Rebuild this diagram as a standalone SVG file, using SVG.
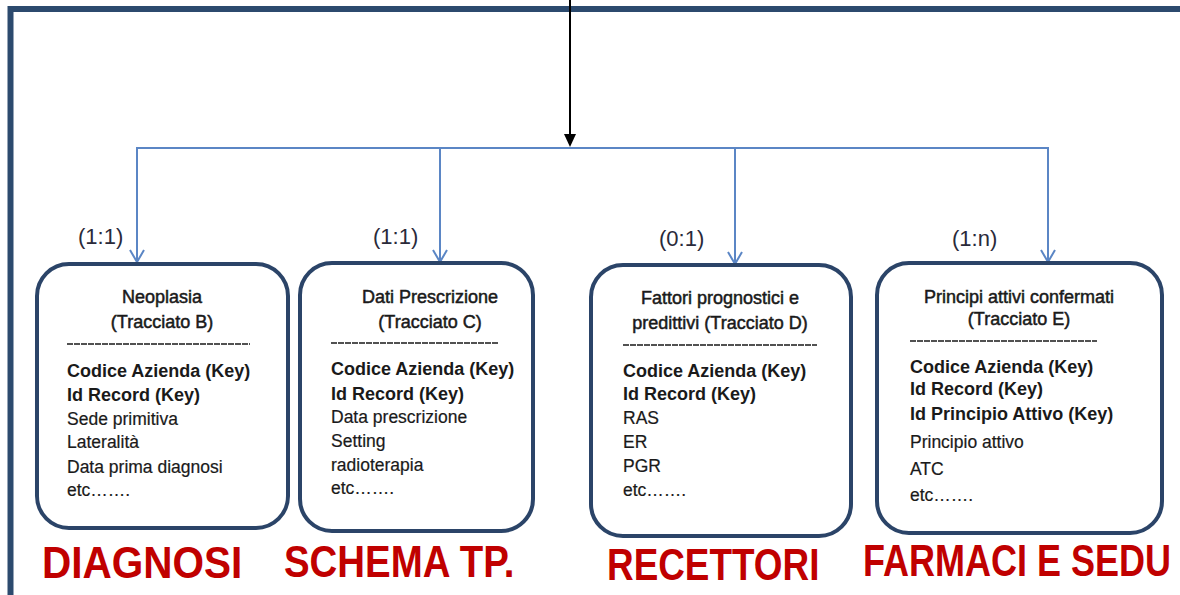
<svg xmlns="http://www.w3.org/2000/svg" width="1180" height="595" viewBox="0 0 1180 595">
<defs>
<style>
.frame{fill:none;stroke:#2C4A6E;stroke-width:6}
.box{fill:#fff;stroke:#2B4468;stroke-width:4}
.conn{fill:none;stroke:#5B86C5;stroke-width:2}
.head{fill:none;stroke:#5B86C5;stroke-width:2}
.card{font-family:"Liberation Sans",Arial,sans-serif;font-size:22px;fill:#2a2a3a}
.t{font-family:"Liberation Sans",Arial,sans-serif;font-size:18px;fill:#1a1a1a;stroke:#1a1a1a;stroke-width:0.5;text-anchor:middle}
.k{font-family:"Liberation Sans",Arial,sans-serif;font-size:18px;font-weight:bold;fill:#1a1a1a}
.f{font-family:"Liberation Sans",Arial,sans-serif;font-size:17.5px;fill:#1a1a1a;stroke:#1a1a1a;stroke-width:0.2}
.sep{stroke:#1a1a1a;stroke-width:1.6;stroke-dasharray:6 1}
.big{font-family:"Liberation Sans",Arial,sans-serif;font-size:45px;font-weight:bold;fill:#C00000}
</style>
</defs>
<rect width="1180" height="595" fill="#fff"/>
<path class="frame" d="M10.5,595 V9 H1180"/>
<g id="connectors">
<line x1="570" y1="0" x2="570" y2="136" stroke="#000" stroke-width="2"/>
<path d="M564,134 L576,134 L570,147 Z" fill="#000"/>
<path class="conn" d="M137,261 V148 H1048 V261"/>
<path class="conn" d="M440,148 V261"/>
<path class="conn" d="M735,148 V263"/>
<path class="head" d="M130,250 L137,262 L144,250"/>
<path class="head" d="M433,250 L440,262 L447,250"/>
<path class="head" d="M728,252 L735,264 L742,252"/>
<path class="head" d="M1041,250 L1048,262 L1055,250"/>
<text class="card" x="78" y="244">(1:1)</text>
<text class="card" x="373" y="244">(1:1)</text>
<text class="card" x="659" y="246">(0:1)</text>
<text class="card" x="952" y="246">(1:n)</text>
</g>
<g id="node-b">
<rect class="box" x="37" y="264" width="251" height="264" rx="32"/>
<text class="t" x="162" y="303">Neoplasia</text>
<text class="t" x="162" y="328">(Tracciato B)</text>
<line class="sep" x1="67" y1="344" x2="250" y2="344"/>
<text class="k" x="67" y="377">Codice Azienda (Key)</text>
<text class="k" x="67" y="401">Id Record (Key)</text>
<text class="f" x="67" y="425">Sede primitiva</text>
<text class="f" x="67" y="448">Lateralità</text>
<text class="f" x="67" y="473">Data prima diagnosi</text>
<text class="f" x="67" y="496">etc…….</text>
<text class="big" transform="translate(42,578) scale(0.9,1)">DIAGNOSI</text>
</g>
<g id="node-c">
<rect class="box" x="300" y="263" width="233" height="268" rx="32"/>
<text class="t" x="430" y="303">Dati Prescrizione</text>
<text class="t" x="430" y="328">(Tracciato C)</text>
<line class="sep" x1="331" y1="343" x2="499" y2="343"/>
<text class="k" x="331" y="375">Codice Azienda (Key)</text>
<text class="k" x="331" y="400">Id Record (Key)</text>
<text class="f" x="331" y="423">Data prescrizione</text>
<text class="f" x="331" y="447">Setting</text>
<text class="f" x="331" y="471">radioterapia</text>
<text class="f" x="331" y="494">etc…….</text>
<text class="big" transform="translate(284,577) scale(0.854,1)">SCHEMA TP.</text>
</g>
<g id="node-d">
<rect class="box" x="591" y="265" width="260" height="271" rx="32"/>
<text class="t" x="720" y="304">Fattori prognostici e</text>
<text class="t" x="720" y="329">predittivi (Tracciato D)</text>
<line class="sep" x1="623" y1="345" x2="817" y2="345"/>
<text class="k" x="623" y="377">Codice Azienda (Key)</text>
<text class="k" x="623" y="400">Id Record (Key)</text>
<text class="f" x="623" y="424">RAS</text>
<text class="f" x="623" y="448">ER</text>
<text class="f" x="623" y="472">PGR</text>
<text class="f" x="623" y="496">etc…….</text>
<text class="big" transform="translate(607,580) scale(0.82,1)">RECETTORI</text>
</g>
<g id="node-e">
<rect class="box" x="877" y="263" width="285" height="270" rx="32"/>
<text class="t" x="1019" y="303">Principi attivi confermati</text>
<text class="t" x="1019" y="325">(Tracciato E)</text>
<line class="sep" x1="910" y1="341" x2="1097" y2="341"/>
<text class="k" x="910" y="373">Codice Azienda (Key)</text>
<text class="k" x="910" y="395">Id Record (Key)</text>
<text class="k" x="910" y="420">Id Principio Attivo (Key)</text>
<text class="f" x="910" y="448">Principio attivo</text>
<text class="f" x="910" y="475">ATC</text>
<text class="f" x="910" y="501">etc…….</text>
<text class="big" transform="translate(863,576) scale(0.8,1)">FARMACI E SEDU</text>
</g>
</svg>
